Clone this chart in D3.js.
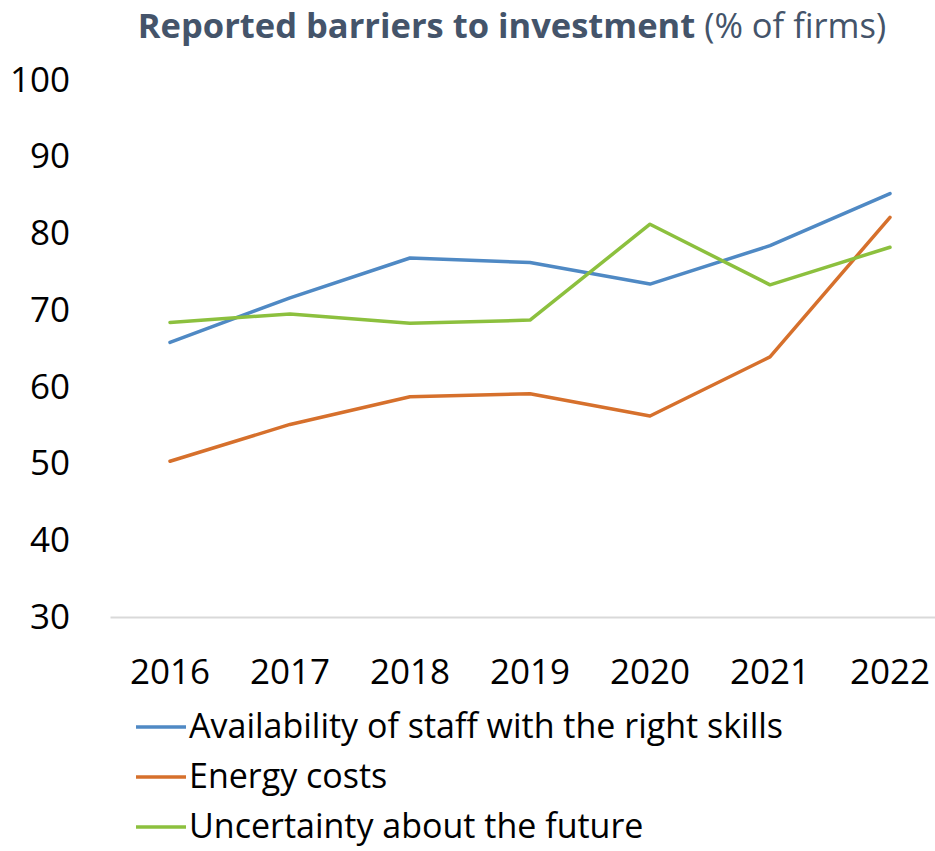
<!DOCTYPE html>
<html>
<head>
<meta charset="utf-8">
<script src="https://cdn.jsdelivr.net/npm/d3@7"></script>
<style>
  body { margin: 0; background: #fff; }
  text { font-family: "Open Sans", "Noto Sans", sans-serif; }
</style>
</head>
<body>
<div id="chart"></div>
<script>
// years on the x axis
var years = ['2016', '2017', '2018', '2019', '2020', '2021', '2022'];

// % of firms
var staffSkills = [65.8, 71.6, 76.8, 76.2, 73.4, 78.4, 85.2];
var energyCosts = [50.3, 55.1, 58.7, 59.1, 56.2, 63.9, 82.1];
var uncertainty = [68.4, 69.5, 68.3, 68.7, 81.2, 73.3, 78.2];

var seriesNames = [
    'Availability of staff with the right skills',
    'Energy costs',
    'Uncertainty about the future'
];
var yTicks = [30, 40, 50, 60, 70, 80, 90, 100];

var colors = ['#4f89c4', '#d6702c', '#8cc03e'];

function main(){
    var width = 935, height = 851;

    var svg = d3.select('#chart').append('svg')
                .attr('width', width)
                .attr('height', height);

    // title: bold part + normal part
    var title = svg.append('text')
                   .attr('x', 512)
                   .attr('y', 38)
                   .attr('text-anchor', 'middle')
                   .style('font-size', '34.5px')
                   .style('fill', '#44546a');
    title.append('tspan').style('font-weight', 'bold').text('Reported barriers to investment');
    title.append('tspan').text(' (% of firms)');

    // scales
    var x = d3.scaleBand()
              .domain(years)
              .range([110, 950]);
    var y = d3.scaleLinear()
              .domain([30, 100])
              .range([617, 80]);

    // y axis, labels only
    var yAxis = svg.append('g')
       .attr('transform', 'translate(110,0)')
       .call(d3.axisLeft(y).tickValues(yTicks).tickSize(0).tickPadding(40));
    yAxis.select('.domain').remove();
    yAxis.selectAll('text')
         .style('font-size', '35px')
         .style('fill', '#000');

    // x axis with light baseline
    var xAxis = svg.append('g')
       .attr('transform', 'translate(0,617)')
       .call(d3.axisBottom(x).tickSize(0).tickPadding(42));
    xAxis.select('.domain')
         .attr('stroke', '#d9d9d9')
         .attr('stroke-width', 2);
    xAxis.selectAll('text')
         .style('font-size', '35px')
         .style('fill', '#000');

    // lines
    var data = [staffSkills, energyCosts, uncertainty];
    var line = d3.line()
                 .x((d, i) => { return x(years[i]) + x.bandwidth() / 2; })
                 .y((d) => { return y(d); });

    svg.selectAll('.series')
       .data(data)
     .enter().append('path')
       .attr('class', 'series')
       .attr('fill', 'none')
       .attr('stroke', (d, i) => { return colors[i]; })
       .attr('stroke-width', 3.5)
       .attr('stroke-linejoin', 'round')
       .attr('stroke-linecap', 'round')
       .attr('d', line);

    // legend
    var legend = svg.selectAll('.legend')
                    .data(seriesNames)
                  .enter().append('g')
                    .attr('class', 'legend')
                    .attr('transform', (d, i) => { return 'translate(136,' + (727 + i * 50) + ')'; });
    legend.append('line')
          .attr('x1', 0).attr('x2', 50)
          .attr('stroke', (d, i) => { return colors[i]; })
          .attr('stroke-width', 3.5);
    legend.append('text')
          .attr('x', 53)
          .attr('dy', '0.33em')
          .style('font-size', '34px')
          .text((d) => { return d; });
}

main();
</script>
</body>
</html>
